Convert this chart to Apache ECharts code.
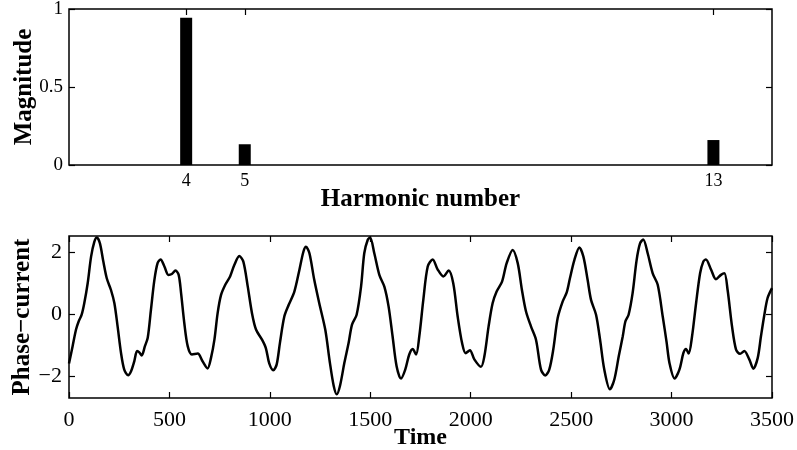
<!DOCTYPE html>
<html>
<head>
<meta charset="utf-8">
<script src="https://cdn.jsdelivr.net/npm/echarts@6/dist/echarts.min.js"></script>
<style>
  html, body { margin: 0; padding: 0; background: #fff; }
  #chart { width: 797px; height: 450px; }
</style>
</head>
<body>
<div id="chart"></div>
<script>
// top plot: harmonic spectrum
const harmonics = [4, 5, 13];
const magnitudes = [0.944, 0.133, 0.16];
const magTicks = [0, 0.5, 1];

// bottom plot: phase current
const timeValues = [
  0, 18, 35, 48, 63, 76, 93, 110, 126, 139, 154, 171, 188, 209, 226, 242, 259, 275, 294, 309,
  325, 339, 350, 362, 378, 392, 408, 425, 441, 456, 475, 495, 512, 530, 546, 558, 574, 591, 612, 641,
  665, 690, 707, 724, 740, 757, 778, 802, 823, 848, 868, 890, 911, 931, 961, 980, 997, 1017, 1034, 1050,
  1072, 1094, 1122, 1147, 1167, 1180, 1197, 1221, 1246, 1276, 1299, 1318, 1333, 1349, 1371, 1392, 1409, 1432, 1454, 1470,
  1487, 1499, 1520, 1545, 1570, 1591, 1611, 1631, 1653, 1674, 1694, 1711, 1728, 1744, 1764, 1786, 1811, 1835, 1864, 1890,
  1913, 1935, 1957, 1975, 1996, 2018, 2051, 2068, 2089, 2109, 2129, 2156, 2179, 2209, 2234, 2255, 2275, 2300, 2325, 2350,
  2371, 2391, 2411, 2433, 2458, 2478, 2494, 2516, 2541, 2561, 2582, 2599, 2624, 2644, 2665, 2693, 2715, 2737, 2757, 2770,
  2786, 2806, 2826, 2843, 2859, 2881, 2906, 2931, 2956, 2975, 2990, 3015, 3039, 3059, 3072, 3085, 3102, 3122, 3142, 3158,
  3171, 3196, 3221, 3246, 3263, 3279, 3301, 3321, 3341, 3362, 3387, 3407, 3429, 3445, 3462, 3478, 3500
];
const currentValues = [
  -1.6, -1.04, -0.5, -0.24, -0.02, 0.35, 1.0, 1.86, 2.34, 2.48, 2.29, 1.7, 1.16, 0.78, 0.35, -0.4, -1.26, -1.8, -1.98, -1.85,
  -1.53, -1.2, -1.24, -1.34, -1.04, -0.77, 0.14, 1.1, 1.65, 1.77, 1.54, 1.27, 1.3, 1.41, 1.27, 0.68, -0.29, -1.04, -1.31, -1.28,
  -1.53, -1.76, -1.42, -0.83, 0.03, 0.62, 0.95, 1.22, 1.59, 1.88, 1.7, 0.89, 0.03, -0.5, -0.83, -1.1, -1.6, -1.82, -1.63, -0.94,
  -0.08, 0.3, 0.73, 1.43, 2.02, 2.18, 1.97, 1.11, 0.35, -0.51, -1.58, -2.33, -2.6, -2.33, -1.58, -0.94, -0.34, -0.02, 0.89, 1.97,
  2.4, 2.48, 1.97, 1.27, 0.89, 0.25, -0.72, -1.69, -2.09, -1.8, -1.31, -1.13, -1.31, -0.72, 0.46, 1.54, 1.77, 1.45, 1.22, 1.41,
  1.0, -0.08, -0.94, -1.27, -1.17, -1.47, -1.71, -1.37, -0.4, 0.35, 0.73, 1.05, 1.65, 2.08, 1.65, 0.78, 0.09, -0.4, -0.83, -1.8,
  -1.99, -1.8, -1.15, -0.13, 0.41, 0.7, 1.16, 1.75, 2.16, 1.86, 1.11, 0.46, -0.02, -0.83, -1.8, -2.44, -2.12, -1.37, -0.72, -0.24,
  -0.02, 0.68, 1.75, 2.29, 2.42, 1.97, 1.32, 0.95, -0.08, -0.9, -1.6, -2.09, -1.8, -1.26, -1.13, -1.28, -0.72, 0.35, 1.32, 1.7,
  1.77, 1.45, 1.13, 1.27, 1.32, 0.78, -0.4, -1.15, -1.29, -1.2, -1.47, -1.77, -1.42, -0.72, -0.02, 0.52, 0.84
];
const timeTicks = [0, 500, 1000, 1500, 2000, 2500, 3000, 3500];
const currentTicks = [-2, 0, 2];

const FONT = '"Liberation Serif", "Times New Roman", serif';
const plain = v => String(v).replace('-', '\u2212');

function tickOpts(values) {
  return { show: true, inside: true, length: 6, customValues: values, lineStyle: { color: '#000', width: 1.2 } };
}
function mainAxis(extra) {
  return Object.assign({
    type: 'value',
    axisLine: { show: false, onZero: false },
    splitLine: { show: false },
    nameLocation: 'middle',
    nameMoveOverlap: false,
    nameTextStyle: { fontFamily: FONT, fontWeight: 'bold', fontSize: 25, color: '#000' }
  }, extra);
}
function mirrorAxis(extra) {
  return Object.assign({
    type: 'value',
    axisLine: { show: false, onZero: false },
    splitLine: { show: false },
    axisLabel: { show: false }
  }, extra);
}

const chart = echarts.init(document.getElementById('chart'), null, { renderer: 'canvas' });

const gridBase = {
  left: 69, right: 25, show: true, outerBoundsMode: 'none', containLabel: false,
  borderColor: '#000', borderWidth: 1.5, backgroundColor: 'transparent'
};

chart.setOption({
  animation: false,
  backgroundColor: '#fff',
  grid: [
    Object.assign({ top: 9, height: 156 }, gridBase),
    Object.assign({ top: 236, height: 162 }, gridBase)
  ],
  xAxis: [
    mainAxis({
      gridIndex: 0, min: 2, max: 14, name: 'Harmonic number', nameGap: 22,
      axisTick: tickOpts(harmonics),
      axisLabel: { customValues: harmonics, formatter: plain, fontFamily: FONT, fontSize: 18, color: '#000', margin: 7 }
    }),
    mirrorAxis({ gridIndex: 0, min: 2, max: 14, position: 'top', axisTick: tickOpts(harmonics) }),
    mainAxis({
      gridIndex: 1, min: 0, max: 3500, name: 'Time', nameGap: 28,
      nameTextStyle: { fontFamily: FONT, fontWeight: 'bold', fontSize: 24, color: '#000' },
      axisTick: tickOpts(timeTicks),
      axisLabel: { customValues: timeTicks, formatter: plain, fontFamily: FONT, fontSize: 22, color: '#000', margin: 11 }
    }),
    mirrorAxis({ gridIndex: 1, min: 0, max: 3500, position: 'top', axisTick: tickOpts(timeTicks) })
  ],
  yAxis: [
    mainAxis({
      gridIndex: 0, min: 0, max: 1, name: 'Magnitude', nameGap: 32,
      axisTick: tickOpts(magTicks),
      axisLabel: { customValues: magTicks, formatter: plain, fontFamily: FONT, fontSize: 19, color: '#000', margin: 6 }
    }),
    mirrorAxis({ gridIndex: 0, min: 0, max: 1, position: 'right', axisTick: tickOpts(magTicks) }),
    mainAxis({
      gridIndex: 1, min: -2.72, max: 2.53, name: 'Phase\u2212current', nameGap: 34,
      axisTick: tickOpts(currentTicks),
      axisLabel: { customValues: currentTicks, formatter: plain, fontFamily: FONT, fontSize: 22, color: '#000', margin: 7 }
    }),
    mirrorAxis({ gridIndex: 1, min: -2.72, max: 2.53, position: 'right', axisTick: tickOpts(currentTicks) })
  ],
  series: [
    {
      type: 'bar',
      xAxisIndex: 0,
      yAxisIndex: 0,
      barWidth: 12,
      itemStyle: { color: '#000' },
      data: harmonics.map((h, i) => [h, magnitudes[i]])
    },
    {
      type: 'line',
      xAxisIndex: 2,
      yAxisIndex: 2,
      showSymbol: false,
      smooth: 0.3,
      lineStyle: { color: '#000', width: 2.5 },
      data: timeValues.map((t, i) => [t, currentValues[i]])
    }
  ]
});
</script>
</body>
</html>
